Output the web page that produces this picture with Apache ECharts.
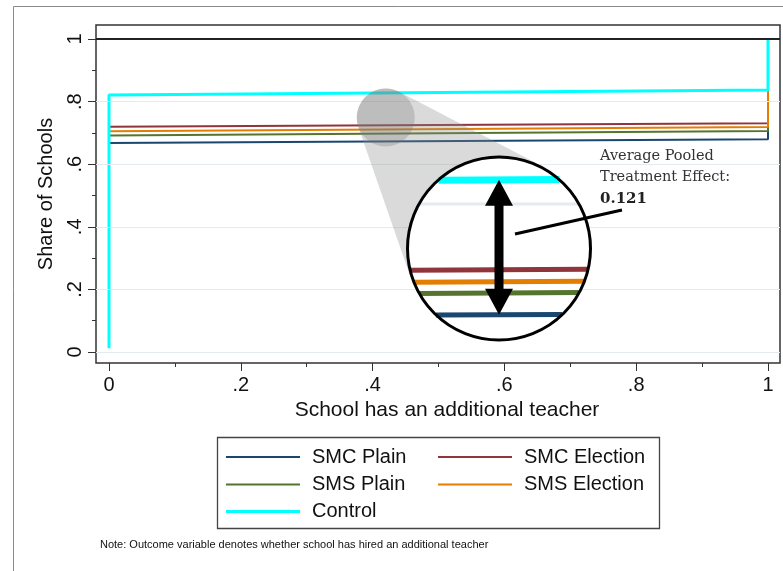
<!DOCTYPE html>
<html>
<head>
<meta charset="utf-8">
<script src="https://cdn.jsdelivr.net/npm/echarts@6/dist/echarts.min.js"></script>
<style>
  html, body { margin: 0; padding: 0; background: #ffffff; }
  #chart { width: 783px; height: 571px; }
</style>
</head>
<body>
<div id="chart"></div>
<script>
// Share of schools with an additional teacher, by treatment arm.
// Each arm runs from x = 0 to x = 1 and then rises to 1 at x = 1.
const seriesNames  = ['SMC Plain', 'SMC Election', 'SMS Plain', 'SMS Election', 'Control'];
const seriesColors = ['#1a476f', '#90353b', '#55752f', '#e37e00', '#00ffff'];
const seriesWidths = [2, 2, 2, 2, 3];
const smcPlain    = [[0, 0.668], [1, 0.680], [1, 1]];
const smcElection = [[0, 0.720], [1, 0.731], [1, 1]];
const smsPlain    = [[0, 0.692], [1, 0.706], [1, 1]];
const smsElection = [[0, 0.705], [1, 0.719], [1, 1]];
const control     = [[0, 0.012], [0, 0.821], [1, 0.837], [1, 1]];

const xTicks      = [0, 0.2, 0.4, 0.6, 0.8, 1];
const xTickLabels = ['0', '.2', '.4', '.6', '.8', '1'];
const xMinorTicks = [0.1, 0.3, 0.5, 0.7, 0.9];
const yTicks      = [0, 0.2, 0.4, 0.6, 0.8, 1];
const yTickLabels = ['0', '.2', '.4', '.6', '.8', '1'];
const yMinorTicks = [0.1, 0.3, 0.5, 0.7, 0.9];
const gridValues  = [0, 0.2, 0.4, 0.6, 0.8];
const refValue    = 1;
const effectLines = ['Average Pooled', 'Treatment Effect:'];
const effectValue = '0.121';
const noteText = 'Note: Outcome variable denotes whether school has hired an additional teacher';

const allData = [smcPlain, smcElection, smsPlain, smsElection, control];

const FONT = '"Liberation Sans", Arial, Helvetica, sans-serif';
const SERIF = '"DejaVu Serif", "Liberation Serif", serif';
const GRID_COLOR = '#e3ebef';
const INK = '#333333';

// Main plot area and its value ranges
const W = 783, H = 571;
const mainGrid = { left: 96, top: 25, right: 3, bottom: 208 };
const xRange = [-0.0197, 1.0182];
const yRange = [-0.0351, 1.0447];
const pxX = (W - mainGrid.left - mainGrid.right) / (xRange[1] - xRange[0]);
const pxY = (H - mainGrid.top - mainGrid.bottom) / (yRange[1] - yRange[0]);

// Loupe: a magnified view centred on one point of the plot
const lensAt = [0.42, 0.749];
const zoom = 2.786;
const lensPx = [499, 248.5];
const lensR = 93;
const lensBorder = 3;
const smallR = 29;
const inPxX = pxX * zoom, inPxY = pxY * zoom;
const insetX = [lensAt[0] - lensR / inPxX, lensAt[0] + lensR / inPxX];
const insetY = [lensAt[1] - lensR / inPxY, lensAt[1] + lensR / inPxY];

function valueAt(data, x) {
  for (let i = 0; i < data.length - 1; i++) {
    const a = data[i], b = data[i + 1];
    if (a[0] !== b[0] && x >= a[0] && x <= b[0]) {
      return a[1] + (b[1] - a[1]) * (x - a[0]) / (b[0] - a[0]);
    }
  }
  return data[data.length - 1][1];
}
function insetYpx(v) { return lensPx[1] - (v - lensAt[1]) * inPxY; }
// Segment of a line that lies inside the loupe
function chord(data) {
  const v = valueAt(data, lensAt[0]);
  const dy = (v - lensAt[1]) * inPxY;
  const r = lensR - lensBorder / 2;
  const half = Math.sqrt(Math.max(0, r * r - dy * dy));
  const dx = half / inPxX;
  return [[lensAt[0] - dx, valueAt(data, lensAt[0] - dx)],
          [lensAt[0] + dx, valueAt(data, lensAt[0] + dx)]];
}

const series = [];
// light grid lines
series.push({
  type: 'line', name: 'grid', data: [], z: 1, silent: true,
  xAxisIndex: 0, yAxisIndex: 0,
  markLine: {
    silent: true, symbol: 'none', animation: false,
    label: { show: false },
    lineStyle: { color: GRID_COLOR, width: 1, type: 'solid' },
    data: gridValues.map(v => ({ yAxis: v }))
  }
});
seriesNames.forEach((name, i) => {
  series.push({
    type: 'line', name: name, data: allData[i],
    xAxisIndex: 0, yAxisIndex: 0, z: 2,
    symbol: 'none', showSymbol: false, animation: false,
    lineStyle: { color: seriesColors[i], width: seriesWidths[i] },
    itemStyle: { color: seriesColors[i] }
  });
});
// reference line at 1
series.push({
  type: 'line', name: 'ref', data: [], z: 3, silent: true,
  xAxisIndex: 0, yAxisIndex: 0,
  markLine: {
    silent: true, symbol: 'none', animation: false,
    label: { show: false },
    lineStyle: { color: '#222222', width: 2.2, type: 'solid' },
    data: [{ yAxis: refValue }]
  }
});
// magnified lines inside the loupe
series.push({
  type: 'line', name: 'lens grid', data: chord([[0, 0.8], [1, 0.8]]),
  xAxisIndex: 2, yAxisIndex: 2, z: 13, symbol: 'none', animation: false, silent: true,
  lineStyle: { color: GRID_COLOR, width: 3 }
});
seriesNames.forEach((name, i) => {
  series.push({
    type: 'line', name: 'lens ' + name, data: chord(allData[i]),
    xAxisIndex: 2, yAxisIndex: 2, z: 13, symbol: 'none', animation: false, silent: true,
    lineStyle: { color: seriesColors[i], width: i === 4 ? 7 : 5, cap: 'butt' }
  });
});

// cone joining the small circle to the loupe
function conePoints(c1, r1, c2, r2) {
  const dxc = c2[0] - c1[0], dyc = c2[1] - c1[1];
  const d = Math.hypot(dxc, dyc);
  const th = Math.atan2(dyc, dxc);
  const al = Math.acos((r1 - r2) / d);
  const pts = [];
  const n = 40;
  for (let k = 0; k <= n; k++) {
    const t = th + al + (2 * Math.PI - 2 * al) * k / n;
    pts.push([c1[0] + r1 * Math.cos(t), c1[1] + r1 * Math.sin(t)]);
  }
  pts.push([c2[0] + r2 * Math.cos(th - al), c2[1] + r2 * Math.sin(th - al)]);
  pts.push([c2[0] + r2 * Math.cos(th + al), c2[1] + r2 * Math.sin(th + al)]);
  return pts;
}
const smallPx = [mainGrid.left + (lensAt[0] - xRange[0]) * pxX,
                 mainGrid.top + (yRange[1] - lensAt[1]) * pxY];

const arrowTop = insetYpx(valueAt(control, lensAt[0]));
const arrowBot = insetYpx(valueAt(smcPlain, lensAt[0]));
const ax = lensPx[0], headW = 14, headL = 26, shaft = 4.5;
const arrowPts = [
  [ax, arrowTop], [ax + headW, arrowTop + headL], [ax + shaft, arrowTop + headL],
  [ax + shaft, arrowBot - headL], [ax + headW, arrowBot - headL], [ax, arrowBot],
  [ax - headW, arrowBot - headL], [ax - shaft, arrowBot - headL],
  [ax - shaft, arrowTop + headL], [ax - headW, arrowTop + headL]
];

const graphic = [
  { type: 'rect', z: 0, silent: true,
    shape: { x: 13.5, y: 6.5, width: 820, height: 620 },
    style: { fill: 'none', stroke: '#8a8a8a', lineWidth: 1 } },
  { type: 'rect', z: 0, silent: true,
    shape: { x: 217.5, y: 437.5, width: 442, height: 91 },
    style: { fill: 'none', stroke: '#444444', lineWidth: 1.3 } },
  { type: 'polygon', z: 10, silent: true,
    shape: { points: conePoints(smallPx, smallR, lensPx, lensR) },
    style: { fill: 'rgba(140,140,140,0.32)' } },
  { type: 'circle', z: 11, silent: true,
    shape: { cx: smallPx[0], cy: smallPx[1], r: smallR },
    style: { fill: 'rgba(110,110,110,0.27)' } },
  { type: 'circle', z: 12, silent: true,
    shape: { cx: lensPx[0], cy: lensPx[1], r: lensR - 1 },
    style: { fill: '#ffffff' } },
  { type: 'circle', z: 14, silent: true,
    shape: { cx: lensPx[0], cy: lensPx[1], r: lensR - lensBorder / 2 },
    style: { fill: 'none', stroke: '#000000', lineWidth: lensBorder } },
  { type: 'polygon', z: 15, silent: true,
    shape: { points: arrowPts },
    style: { fill: '#000000' } },
  { type: 'line', z: 15, silent: true,
    shape: { x1: 515, y1: 234, x2: 622, y2: 210 },
    style: { stroke: '#000000', lineWidth: 3 } },
  { type: 'text', z: 15, silent: true,
    style: { text: effectLines[0], x: 600, y: 156, fill: '#333333',
             font: '14.5px ' + SERIF, textVerticalAlign: 'middle', verticalAlign: 'middle' } },
  { type: 'text', z: 15, silent: true,
    style: { text: effectLines[1], x: 600, y: 177, fill: '#333333',
             font: '14.5px ' + SERIF, textVerticalAlign: 'middle', verticalAlign: 'middle' } },
  { type: 'text', z: 15, silent: true,
    style: { text: effectValue, x: 600, y: 199, fill: '#222222',
             font: 'bold 15px ' + SERIF, textVerticalAlign: 'middle', verticalAlign: 'middle' } },
  { type: 'text', z: 15, silent: true,
    style: { text: noteText, x: 100, y: 545, fill: '#111111',
             font: '11px ' + FONT, textVerticalAlign: 'middle', verticalAlign: 'middle' } }
];

const tickStyle = { color: INK, width: 1 };
const labelStyle = { fontSize: 20, color: '#111111', fontFamily: FONT };

// Legend entries are plain coloured strokes
function legendBlock(names, left, top, stroke) {
  return {
    orient: 'vertical', left: left, top: top, padding: 0, itemGap: 7.5,
    icon: 'rect', itemWidth: 74, itemHeight: stroke, selectedMode: false,
    textStyle: { fontSize: 20, color: '#111111', fontFamily: FONT, padding: [0, 0, 0, 7] },
    data: names
  };
}
const rowGap = 27.5;
const legendTop = 447;

const option = {
  animation: false,
  backgroundColor: '#ffffff',
  textStyle: { fontFamily: FONT },
  grid: [
    Object.assign({ show: true, borderColor: INK, borderWidth: 1.5, backgroundColor: 'transparent',
                    containLabel: false }, mainGrid),
    { left: lensPx[0] - lensR, top: lensPx[1] - lensR, width: 2 * lensR, height: 2 * lensR,
      show: false, containLabel: false }
  ],
  xAxis: [
    { type: 'value', gridIndex: 0, position: 'bottom', min: xRange[0], max: xRange[1],
      name: 'School has an additional teacher', nameLocation: 'middle', nameGap: 37,
      nameTextStyle: Object.assign({}, labelStyle, { fontSize: 21, padding: [0, 0, 0, 18] }),
      axisLine: { show: false, onZero: false },
      axisTick: { show: true, length: 8, lineStyle: tickStyle, customValues: xTicks },
      axisLabel: { show: true, margin: 12, customValues: xTicks,
                   formatter: v => xTickLabels[xTicks.indexOf(v)], ...labelStyle },
      splitLine: { show: false }, minorTick: { show: false } },
    { type: 'value', gridIndex: 0, position: 'bottom', min: xRange[0], max: xRange[1],
      axisLine: { show: false, onZero: false },
      axisTick: { show: true, length: 4, lineStyle: tickStyle, customValues: xMinorTicks },
      axisLabel: { show: false }, splitLine: { show: false } },
    { type: 'value', gridIndex: 1, min: insetX[0], max: insetX[1], show: false,
      axisLine: { onZero: false }, splitLine: { show: false } }
  ],
  yAxis: [
    { type: 'value', gridIndex: 0, position: 'left', min: yRange[0], max: yRange[1],
      name: 'Share of Schools', nameLocation: 'middle', nameGap: 40,
      nameTextStyle: labelStyle,
      axisLine: { show: false, onZero: false },
      axisTick: { show: true, length: 8, lineStyle: tickStyle, customValues: yTicks },
      axisLabel: { show: true, margin: 11, rotate: 90, customValues: yTicks,
                   formatter: v => yTickLabels[yTicks.indexOf(v)], ...labelStyle },
      splitLine: { show: false }, minorTick: { show: false } },
    { type: 'value', gridIndex: 0, position: 'left', min: yRange[0], max: yRange[1],
      axisLine: { show: false, onZero: false },
      axisTick: { show: true, length: 4, lineStyle: tickStyle, customValues: yMinorTicks },
      axisLabel: { show: false }, splitLine: { show: false } },
    { type: 'value', gridIndex: 1, min: insetY[0], max: insetY[1], show: false,
      axisLine: { onZero: false }, splitLine: { show: false } }
  ],
  legend: [
    legendBlock([seriesNames[0], seriesNames[2]], 226, legendTop, 2),
    legendBlock([seriesNames[1], seriesNames[3]], 438, legendTop, 2),
    legendBlock([seriesNames[4]], 226, legendTop + 2 * rowGap - 0.5, 3)
  ],
  series: series,
  graphic: graphic
};

const chart = echarts.init(document.getElementById('chart'), null, { renderer: 'canvas' });
chart.setOption(option);
</script>
</body>
</html>
